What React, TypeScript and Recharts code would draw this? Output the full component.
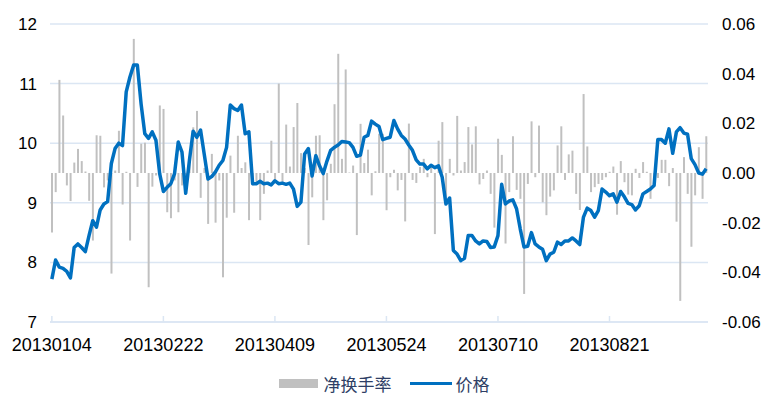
import { Bar, CartesianGrid, ComposedChart, Legend, Line, XAxis, YAxis } from "recharts";

// x-axis labels, one every 30 trading days
const TICK_LABELS = ["20130104", "20130222", "20130409", "20130524", "20130710", "20130821"];

// 价格 (left axis)
const PRICE = [
  7.72, 8.04, 7.92, 7.9, 7.85, 7.74, 8.25, 8.31, 8.25, 8.18,
  8.45, 8.7, 8.59, 8.88, 8.98, 9.02, 9.66, 9.91, 10.0, 9.96,
  10.86, 11.11, 11.31, 11.31, 10.66, 10.16, 10.08, 10.19, 10.05, 9.49,
  9.19, 9.26, 9.32, 9.49, 10.02, 9.85, 9.16, 9.71, 10.2, 10.1,
  10.22, 9.81, 9.4, 9.44, 9.52, 9.63, 9.71, 9.93, 10.64, 10.58,
  10.55, 10.64, 10.16, 10.19, 9.32, 9.32, 9.36, 9.32, 9.33, 9.3,
  9.37, 9.32, 9.33, 9.31, 9.33, 9.23, 8.94, 9.01, 9.82, 9.91,
  9.45, 9.79, 9.62, 9.49, 9.7, 9.88, 9.93, 9.97, 10.03, 10.02,
  10.01, 9.93, 9.78, 9.8, 10.1, 10.13, 10.37, 10.32, 10.28, 10.06,
  10.08, 10.1, 10.38, 10.24, 10.13, 10.07, 9.97, 9.88, 9.72, 9.65,
  9.65, 9.57, 9.63, 9.59, 9.62, 9.43, 8.98, 9.08, 8.2, 8.14,
  8.03, 8.07, 8.45, 8.45, 8.36, 8.31, 8.36, 8.35, 8.25, 8.26,
  8.45, 9.31, 8.98, 9.03, 9.05, 8.9, 8.56, 8.26, 8.27, 8.5,
  8.31, 8.26, 8.22, 8.03, 8.14, 8.17, 8.34, 8.3, 8.36, 8.36,
  8.41, 8.36, 8.3, 8.76, 8.91, 8.87, 8.76, 8.87, 9.23, 9.18,
  9.12, 9.15, 9.01, 9.19, 9.1, 8.99, 8.97, 8.88, 8.95, 9.15,
  9.19, 9.23, 9.29, 10.06, 10.06, 10.0, 10.24, 9.83, 10.19, 10.26,
  10.17, 10.15, 9.74, 9.64, 9.5, 9.48, 9.57,
];

// 净换手率 (right axis)
const TURNOVER = [
  -0.024, -0.0077, 0.0375, 0.0232, -0.005, -0.0113, 0.0042, 0.0097, 0.0048, 0.0006,
  -0.0112, -0.0272, 0.0152, 0.015, -0.0058, -0.003, -0.0405, 0.001, 0.017, -0.0127,
  0.0005, -0.0272, 0.054, -0.0056, 0.0118, 0.0122, -0.046, -0.0055, -0.001, 0.0272,
  0.0258, -0.0158, -0.0182, -0.003, -0.0158, -0.005, -0.0025, 0.0068, 0.0184, 0.025,
  -0.01, 0.002, -0.0205, 0.0077, -0.02, -0.003, -0.042, -0.018, 0.007, -0.016,
  0.015, 0.002, 0.0043, -0.019, -0.005, -0.004, -0.019, -0.0084, 0.001, 0.013,
  -0.004, 0.036, -0.0044, 0.0195, 0.0026, 0.0185, 0.0282, 0.008, 0.002, -0.029,
  -0.0098, 0.015, 0.0152, -0.019, -0.011, 0.0037, 0.0277, 0.048, 0.0057, 0.0417,
  0.0002, 0.003, -0.025, 0.0198, 0.004, 0.0094, -0.009, 0.0007, 0.0158, 0.0158,
  -0.015, -0.0017, 0.0013, -0.007, -0.0028, -0.0195, 0.0199, -0.0028, -0.004, 0.0024,
  0.0057, -0.0017, 0.0024, -0.0246, 0.013, 0.0205, -0.011, 0.0057, -0.001, 0.023,
  0.001, 0.0044, 0.0185, 0.0115, 0.0188, -0.0046, -0.0024, 0.001, -0.0084, -0.022,
  0.0138, 0.0073, -0.0284, -0.0077, 0.0148, -0.0068, -0.0104, -0.0487, -0.0044, 0.0208,
  -0.0017, 0.0191, -0.0118, -0.017, -0.0095, -0.007, 0.0111, 0.0188, -0.0028, 0.0075,
  0.009, -0.0084, -0.0149, 0.0318, 0.0107, -0.0077, -0.0057, -0.0044, -0.0028, -0.0017,
  0.0005, 0.0026, -0.0168, 0.0048, -0.0037, -0.0087, -0.009, 0.0017, -0.002, 0.0044,
  0.0005, -0.0104, -0.003, -0.002, 0.0053, 0.0053, -0.0053, 0.002, -0.0196, -0.0515,
  0.0064, -0.0084, -0.0297, -0.009, 0.0104, -0.0104, 0.0148,
];

const LEFT_TICKS = [7, 8, 9, 10, 11, 12];
const RIGHT_TICKS = [-0.06, -0.04, -0.02, 0, 0.02, 0.04, 0.06];

const BLUE = "#0070c0";
const GRAY = "#c0c0c0";
const GRID = "#dbe6f3";
const FONT = "'Liberation Sans', Arial, sans-serif";
const TICK = { fill: "#000", fontSize: 17, fontFamily: FONT };

const data = PRICE.map((price, i) => ({ i, price, turnover: TURNOVER[i] }));

function LegendContent() {
  return (
    <div
      style={{
        display: "flex",
        justifyContent: "center",
        alignItems: "center",
        height: 24,
        fontFamily: "'Noto Sans CJK SC', sans-serif",
        fontSize: 17,
        color: "#2f3f66",
      }}
    >
      <span style={{ width: 39, height: 9, background: GRAY, marginRight: 6 }} />
      <span>净换手率</span>
      <span style={{ width: 42, height: 3, background: BLUE, marginLeft: 18, marginRight: 4 }} />
      <span>价格</span>
    </div>
  );
}

export default function App() {
  return (
    <div style={{ position: "absolute", left: 0, top: 0, background: "#fff" }}>
      <ComposedChart
        width={768}
        height={399}
        data={data}
        margin={{ top: 24, right: 0, bottom: 4, left: 0 }}
      >
        <CartesianGrid yAxisId="left" vertical={false} stroke={GRID} strokeWidth={1.5} />
        <XAxis
          dataKey="i"
          interval={29}
          tickFormatter={(v) => TICK_LABELS[v / 30] ?? ""}
          tick={{ ...TICK, fontSize: 18 }}
          axisLine={{ stroke: GRID, strokeWidth: 1.5 }}
          tickLine={{ stroke: GRID, strokeWidth: 1.5 }}
          tickSize={-6}
          tickMargin={22}
          height={49}
        />
        <YAxis
          yAxisId="left"
          domain={[7, 12]}
          ticks={LEFT_TICKS}
          tick={TICK}
          axisLine={false}
          tickLine={false}
          tickSize={0}
          tickMargin={13}
          width={50}
        />
        <YAxis
          yAxisId="right"
          orientation="right"
          domain={[-0.06, 0.06]}
          ticks={RIGHT_TICKS}
          tickFormatter={(v) => v.toFixed(2)}
          tick={{ ...TICK, textAnchor: "start" }}
          axisLine={false}
          tickLine={false}
          tickSize={0}
          tickMargin={14}
          width={60}
        />
        <Legend verticalAlign="bottom" height={24} content={() => <LegendContent />} />
        <Bar
          yAxisId="right"
          dataKey="turnover"
          name="净换手率"
          fill={GRAY}
          barSize={2}
          isAnimationActive={false}
        />
        <Line
          yAxisId="left"
          type="linear"
          dataKey="price"
          name="价格"
          stroke={BLUE}
          strokeWidth={3.5}
          strokeLinejoin="round"
          dot={false}
          activeDot={false}
          isAnimationActive={false}
        />
      </ComposedChart>
    </div>
  );
}
